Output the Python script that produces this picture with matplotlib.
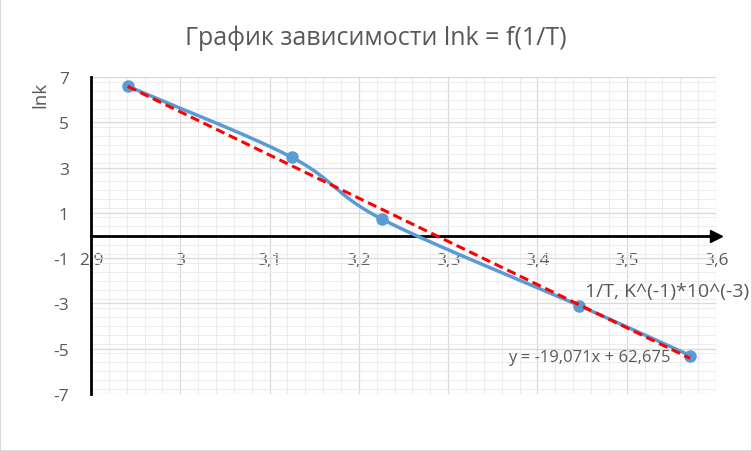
import matplotlib
matplotlib.use('Agg')
import matplotlib.pyplot as plt
import numpy as np
from matplotlib.ticker import MultipleLocator, FuncFormatter

plt.rcParams['font.family'] = ['Open Sans', 'DejaVu Sans']

inv_t = [2.941, 3.125, 3.226, 3.447, 3.571]
ln_k = [6.60, 3.45, 0.72, -3.10, -5.30]
slope, intercept = -19.071, 62.675

title = 'График зависимости lnk = f(1/T)'
x_label = '1/T, K^(-1)*10^(-3)'
y_label = 'lnk'
grey = '#595959'


def smooth(xs, ys, n=40):
    # Catmull-Rom through the points, like Excel's smoothed line
    px = np.array(xs)
    py = np.array(ys)
    px = np.concatenate([[2 * px[0] - px[1]], px, [2 * px[-1] - px[-2]]])
    py = np.concatenate([[2 * py[0] - py[1]], py, [2 * py[-1] - py[-2]]])
    out_x, out_y = [], []
    t = np.linspace(0, 1, n)
    for i in range(1, len(px) - 2):
        for arr, out in ((px, out_x), (py, out_y)):
            p0, p1, p2, p3 = arr[i - 1], arr[i], arr[i + 1], arr[i + 2]
            out.extend(0.5 * (2 * p1 + (-p0 + p2) * t
                              + (2 * p0 - 5 * p1 + 4 * p2 - p3) * t ** 2
                              + (-p0 + 3 * p1 - 3 * p2 + p3) * t ** 3))
    return out_x, out_y


fig = plt.figure(figsize=(7.52, 4.52), dpi=100)
fig.patches.append(plt.Rectangle((0, 0), 1, 1, transform=fig.transFigure,
                                 fill=False, edgecolor='#D9D9D9', lw=1.5))
ax = fig.add_axes([91 / 752, 1 - 395 / 452, 625 / 752, 317 / 452])

ax.set_xlim(2.9, 3.6)
ax.set_ylim(-7, 7)
ax.xaxis.set_major_locator(MultipleLocator(0.1))
ax.xaxis.set_minor_locator(MultipleLocator(0.02))
ax.set_yticks(np.arange(-7, 8, 2))
ax.yaxis.set_minor_locator(MultipleLocator(0.4))
ax.grid(which='major', color='#D9D9D9', lw=0.9)
ax.grid(which='minor', color='#EDEDED', lw=0.8)
ax.set_axisbelow(True)

fmt = FuncFormatter(lambda v, p: ('%g' % round(v, 2)).replace('.', ','))
ax.xaxis.set_major_formatter(fmt)
ax.yaxis.set_major_formatter(fmt)
ax.tick_params(which='both', length=0, labelsize=12.5, labelcolor=grey)
ax.tick_params(axis='x', pad=12)
ax.tick_params(axis='y', pad=16)

for s in ('top', 'right'):
    ax.spines[s].set_visible(False)
ax.spines['bottom'].set_position(('data', 0))
ax.spines['bottom'].set_linewidth(2)
ax.spines['left'].set_linewidth(2)
ax.plot(1, 0, '>k', ms=9, transform=ax.get_yaxis_transform(), clip_on=False)
ax.plot(0, 1, '^k', ms=9, transform=ax.get_xaxis_transform(), clip_on=False)

sx, sy = smooth(inv_t, ln_k)
ax.plot(sx, sy, color='#5B9BD5', lw=2.5, zorder=3)
ax.plot(inv_t, ln_k, 'o', color='#5B9BD5', ms=8, zorder=4)
tx = np.array([inv_t[0], inv_t[-1]])
ax.plot(tx, slope * tx + intercept, '--', color='#FF0000', lw=2.2,
        dashes=(3, 1.6), zorder=5)

fig.text(376 / 752, 1 - 38 / 452, title, ha='center', va='center',
         fontsize=18, color=grey)
fig.text(40 / 752, 1 - 95 / 452, y_label, ha='center', va='center',
         rotation=90, fontsize=13.5, color=grey)
fig.text(749 / 752, 1 - 292 / 452, x_label, ha='right', va='center',
         fontsize=14, color=grey)
fig.text(508 / 752, 1 - 358 / 452, 'y = -19,071x + 62,675', ha='left',
         va='center', fontsize=12, color=grey)

fig.savefig('out.png', dpi=100)
